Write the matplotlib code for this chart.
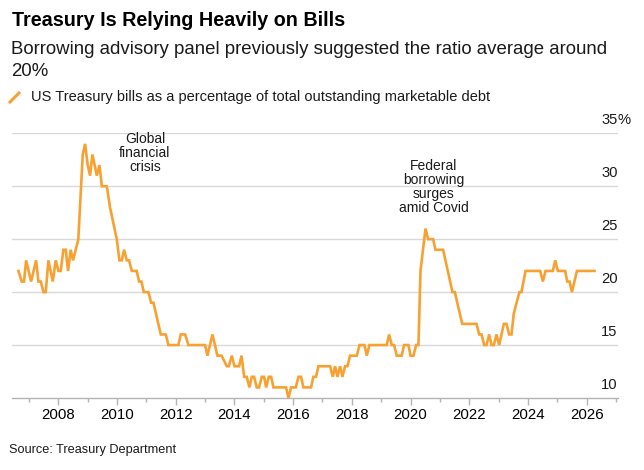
import matplotlib
matplotlib.use("Agg")
import matplotlib.pyplot as plt
import matplotlib.transforms as mtransforms

plt.rcParams["font.family"] = ["Liberation Sans", "DejaVu Sans"]

# Bills share of marketable debt, vertices (decimal year, %)
YEARS = [
    2006.64, 2006.75, 2006.83, 2006.90, 2007.07, 2007.24, 2007.32, 2007.40, 2007.49, 2007.57,
    2007.66, 2007.81, 2007.91, 2008.00, 2008.08, 2008.17, 2008.25, 2008.33, 2008.42, 2008.50,
    2008.68, 2008.83, 2008.91, 2009.00, 2009.08, 2009.16, 2009.31, 2009.40, 2009.48, 2009.65,
    2009.76, 2009.99, 2010.08, 2010.16, 2010.24, 2010.33, 2010.41, 2010.50, 2010.67, 2010.75,
    2010.83, 2010.91, 2011.07, 2011.16, 2011.24, 2011.49, 2011.66, 2011.75, 2012.09, 2012.17,
    2012.32, 2012.43, 2013.00, 2013.08, 2013.25, 2013.42, 2013.56, 2013.74, 2013.81, 2013.91,
    2014.00, 2014.16, 2014.24, 2014.33, 2014.42, 2014.51, 2014.59, 2014.67, 2014.76, 2014.84,
    2014.93, 2015.01, 2015.08, 2015.17, 2015.25, 2015.33, 2015.76, 2015.84, 2015.93, 2016.09,
    2016.18, 2016.27, 2016.35, 2016.61, 2016.69, 2016.78, 2016.86, 2017.26, 2017.35, 2017.43,
    2017.51, 2017.60, 2017.68, 2017.77, 2017.85, 2017.94, 2018.17, 2018.26, 2018.43, 2018.51,
    2018.60, 2019.19, 2019.27, 2019.36, 2019.44, 2019.53, 2019.70, 2019.78, 2019.93, 2020.00,
    2020.10, 2020.19, 2020.27, 2020.34, 2020.51, 2020.60, 2020.77, 2020.85, 2021.11, 2021.43,
    2021.51, 2021.76, 2022.25, 2022.34, 2022.42, 2022.51, 2022.59, 2022.68, 2022.76, 2022.84,
    2022.93, 2023.02, 2023.18, 2023.27, 2023.36, 2023.44, 2023.52, 2023.71, 2023.78, 2023.92,
    2024.42, 2024.51, 2024.60, 2024.85, 2024.93, 2025.02, 2025.27, 2025.34, 2025.42, 2025.50,
    2025.67, 2026.27,
]
SHARE = [
    22, 21, 21, 23, 21, 23, 21, 21, 20, 20,
    23, 21, 23, 22, 22, 24, 24, 22, 24, 23,
    25, 33, 34, 32, 31, 33, 31, 32, 30, 30,
    28, 25, 23, 23, 24, 23, 23, 22, 22, 21,
    21, 20, 20, 19, 19, 16, 16, 15, 15, 16,
    16, 15, 15, 14, 16, 14, 14, 13, 13, 14,
    13, 13, 14, 12, 12, 11, 12, 12, 11, 11,
    12, 12, 11, 12, 12, 11, 11, 10, 11, 11,
    12, 12, 11, 11, 12, 12, 13, 13, 12, 13,
    12, 13, 12, 13, 13, 14, 14, 15, 15, 14,
    15, 15, 16, 15, 15, 14, 14, 15, 15, 14,
    14, 15, 15, 22, 26, 25, 25, 24, 24, 20,
    20, 17, 17, 16, 16, 15, 15, 16, 15, 15,
    16, 15, 17, 17, 16, 16, 18, 20, 20, 22,
    22, 21, 22, 22, 23, 22, 22, 21, 21, 20,
    22, 22,
]

Y_TICKS = [10, 15, 20, 25, 30, 35]
X_MAJOR = list(range(2008, 2027, 2))
X_MINOR = list(range(2007, 2028, 2))

ORANGE = "#f7a133"
GRID = "#d9d9d9"
AXIS = "#b3b3b3"

fig = plt.figure(figsize=(6.44, 4.70), dpi=100)
ax = fig.add_axes([12.3 / 644, 1 - 398 / 470, (617.7 - 12.3) / 644, (398 - 133.3) / 470])

ax.plot(YEARS, SHARE, color=ORANGE, linewidth=1.9, solid_joinstyle="miter", zorder=3)

ax.set_xlim(2006.43, 2027.06)
ax.set_ylim(10, 35)

for v in Y_TICKS[1:]:
    ax.axhline(v, color=GRID, linewidth=1.0, zorder=1)

for s in ["top", "right", "left"]:
    ax.spines[s].set_visible(False)
ax.spines["bottom"].set_color(AXIS)
ax.spines["bottom"].set_linewidth(1.0)

ax.set_yticks([])
ax.set_xticks(X_MAJOR)
ax.set_xticks(X_MINOR, minor=True)
ax.set_xticklabels([str(y) for y in X_MAJOR])
ax.tick_params(axis="x", which="major", length=5, color=AXIS, width=1, labelsize=10.8, pad=2)
ax.tick_params(axis="x", which="minor", length=3, color=AXIS, width=1)

trans = mtransforms.blended_transform_factory(ax.transAxes, ax.transData)
off = mtransforms.offset_copy(trans, fig=fig, x=0, y=4.5, units="points")
for v in Y_TICKS:
    ax.text(1.0, v, str(v), transform=off, ha="right", va="bottom", fontsize=10.6, color="#1a1a1a")
ax.text(1.0, 35, "%", transform=off, ha="left", va="bottom", fontsize=10.6, color="#1a1a1a")

ax.text(2010.95, 35.15, "Global\nfinancial\ncrisis", ha="center", va="top",
        fontsize=10, linespacing=1.0, color="#1a1a1a")
ax.text(2020.8, 32.6, "Federal\nborrowing\nsurges\namid Covid", ha="center", va="top",
        fontsize=10, linespacing=1.0, color="#1a1a1a")

fig.text(12 / 644, 1 - 20 / 470, "Treasury Is Relying Heavily on Bills", fontsize=14.2,
         fontweight="bold", ha="left", va="center", color="#000000")
fig.text(11 / 644, 1 - 49 / 470, "Borrowing advisory panel previously suggested the ratio average around",
         fontsize=13.4, ha="left", va="center", color="#1a1a1a")
fig.text(11 / 644, 1 - 72 / 470, "20%", fontsize=13.4, ha="left", va="center", color="#1a1a1a")

fig.lines.append(plt.Line2D([10 / 644, 19 / 644], [1 - 102 / 470, 1 - 93 / 470],
                            transform=fig.transFigure, color=ORANGE, linewidth=2.2))
fig.text(31 / 644, 1 - 97 / 470, "US Treasury bills as a percentage of total outstanding marketable debt",
         fontsize=10.5, ha="left", va="center", color="#1a1a1a")

fig.text(9 / 644, 1 - 450 / 470, "Source: Treasury Department", fontsize=9.2,
         ha="left", va="center", color="#1a1a1a")

fig.savefig("out.png", dpi=100)
